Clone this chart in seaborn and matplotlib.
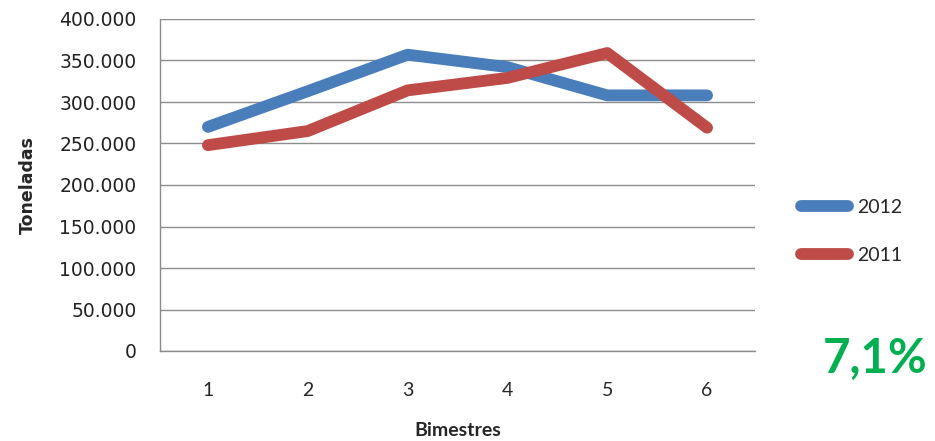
import numpy as np
import pandas as pd
import matplotlib
matplotlib.use("Agg")
import matplotlib.pyplot as plt
from matplotlib.ticker import FuncFormatter
import seaborn as sns

# Toneladas por bimestre
bimestres = [1, 2, 3, 4, 5, 6]
t_2012 = [270000, 313000, 357000, 342000, 308000, 308000]
t_2011 = [248000, 265000, 314000, 329000, 359000, 269000]
variacao = "7,1%"

df = pd.DataFrame({
    "Bimestres": bimestres * 2,
    "Toneladas": t_2012 + t_2011,
    "Ano": ["2012"] * 6 + ["2011"] * 6,
})

sns.set_style("white")
plt.rcParams['font.family'] = ['DejaVu Sans']

fig = plt.figure(figsize=(9.35, 4.41), dpi=100)
ax = fig.add_axes([160 / 935, 1 - 351 / 441, 595 / 935, 332 / 441])

sns.lineplot(data=df, x="Bimestres", y="Toneladas", hue="Ano",
             hue_order=["2012", "2011"],
             palette={"2012": "#4A7EBB", "2011": "#BE4B48"},
             linewidth=8.5, solid_capstyle="round", solid_joinstyle="round",
             ax=ax, legend=True)

ax.set_xlim(0.52, 6.48)
ax.set_ylim(0, 400000)
ax.set_yticks(np.arange(0, 400001, 50000))
ax.yaxis.set_major_formatter(FuncFormatter(lambda v, p: f"{int(v):,}".replace(",", ".")))
ax.set_xticks(bimestres)
ax.grid(axis="y", color="#8c8c8c", linewidth=1.0)
ax.set_axisbelow(True)
for s in ["top", "right"]:
    ax.spines[s].set_visible(False)
for s in ["left", "bottom"]:
    ax.spines[s].set_color("#8c8c8c")
    ax.spines[s].set_linewidth(1.0)
ax.tick_params(axis="both", length=0)
ax.tick_params(axis="y", labelsize=13.5, pad=17, labelcolor="#222222")
for lab in ax.get_xticklabels():
    lab.set_family("Lato")
    lab.set_fontsize(14)
ax.tick_params(axis="x", pad=22)

ax.set_xlabel("Bimestres", family="Lato", fontweight="bold", fontsize=14, labelpad=17)
ax.set_ylabel("Toneladas", fontweight="bold", fontsize=12.5, labelpad=16)

leg = ax.legend(loc="center left", bbox_to_anchor=(801 / 935, 1 - 231.5 / 441),
                bbox_transform=fig.transFigure, frameon=False, borderaxespad=0,
                borderpad=0, handlelength=2.4, handletextpad=0.5, labelspacing=1.6,
                prop={"family": "Lato", "size": 14})
for line in leg.get_lines():
    line.set_linewidth(8.5)
    line.set_solid_capstyle("round")

fig.text(875 / 935, 1 - 358 / 441, variacao, color="#00B050", family="Lato",
         fontweight="bold", fontsize=34, ha="center", va="center")

fig.savefig("out.png", dpi=100)
